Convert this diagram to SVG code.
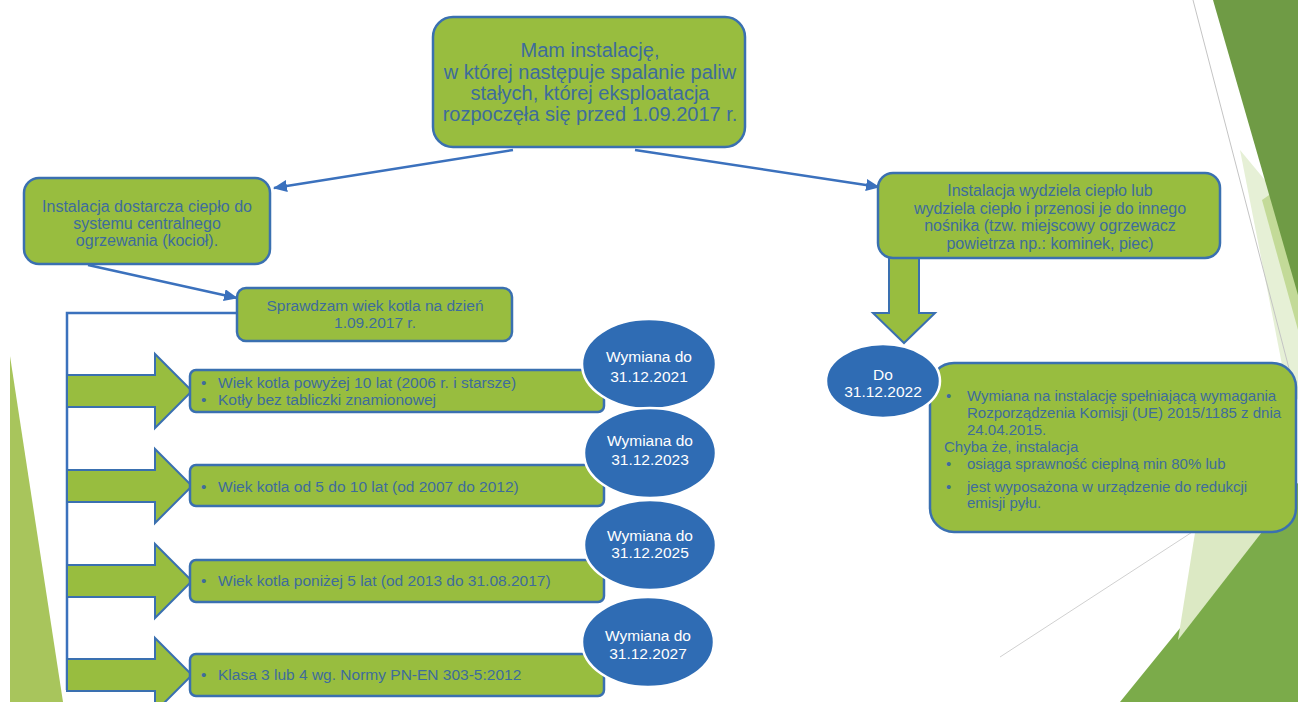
<svg xmlns="http://www.w3.org/2000/svg" width="1298" height="702" viewBox="0 0 1298 702">
  <defs>
    <marker id="ah" markerUnits="userSpaceOnUse" markerWidth="14" markerHeight="12" refX="13" refY="6" orient="auto">
      <path d="M0,0 L14,6 L0,12 Z" fill="#3b71bd"/>
    </marker>
    <style>
      .box{fill:#98bd3f;stroke:#3a70b0;stroke-width:2.5}
      .blk{fill:#98bd3f;stroke:#3a70b0;stroke-width:2;stroke-linejoin:miter}
      .circ{fill:#2f6cb4;stroke:#ffffff;stroke-width:2.5}
      .t{font-family:"Liberation Sans",Arial,sans-serif;fill:#3e6c9c}
      .ct{font-family:"Liberation Sans",Arial,sans-serif;fill:#ffffff;font-size:15.5px;text-anchor:middle}
      .c{text-anchor:middle}
      .con{stroke:#3b71bd;stroke-width:2.5;fill:none}
    </style>
  </defs>
  <rect width="1298" height="702" fill="#ffffff"/>

  <!-- background decoration -->
  <g id="decor">
    <polygon points="10,356 10,702 63,702" fill="#a8c55c"/>
    <polygon points="1240,150 1298,220 1298,400 1285,380" fill="#e6f0d6"/>
    <polygon points="1262,200 1298,175 1298,330" fill="#c3da98"/>
    <polygon points="1213,0 1298,0 1298,295" fill="#6f9b45"/>
    <line x1="1193" y1="0" x2="1292" y2="380" stroke="#c4c4c4" stroke-width="1"/>
    <polygon points="1120,702 1298,483 1298,702" fill="#7bab4a"/>
    <polygon points="1205,470 1275,470 1262,532 1178,640" fill="#dce9c4"/>
    <polygon points="1258,532 1298,483 1298,520" fill="#7bab4a"/>
    <line x1="1000" y1="657" x2="1200" y2="527" stroke="#d0d0d0" stroke-width="1"/>
  </g>

  <!-- connectors -->
  <g id="connectors">
    <line class="con" x1="513" y1="150" x2="274" y2="188" marker-end="url(#ah)"/>
    <line class="con" x1="635" y1="150" x2="879" y2="187" marker-end="url(#ah)"/>
    <line class="con" x1="88" y1="265" x2="237" y2="298" marker-end="url(#ah)"/>
    <polyline class="con" points="237,313 67,313 67,690"/>
    <polygon class="blk" points="889,258 919,258 919,313 935,313 904,343 873,313 889,313"/>
    <polygon class="blk" points="67,375 155,375 155,354 192,391 155,428 155,407 67,407"/>
    <polygon class="blk" points="67,470 155,470 155,449 192,486 155,523 155,502 67,502"/>
    <polygon class="blk" points="67,565 155,565 155,544 192,581 155,618 155,597 67,597"/>
    <polygon class="blk" points="67,659 155,659 155,638 192,675 155,712 155,691 67,691"/>
  </g>

  <g id="node-top">
    <rect class="box" x="433" y="17" width="312" height="130" rx="20"/>
    <text class="t c" font-size="20" x="590" y="57">Mam instalację,</text>
    <text class="t c" font-size="20" x="590" y="79">w której następuje spalanie paliw</text>
    <text class="t c" font-size="20" x="590" y="100">stałych, której eksploatacja</text>
    <text class="t c" font-size="20" x="590" y="121">rozpoczęła się przed 1.09.2017 r.</text>
  </g>

  <g id="node-left">
    <rect class="box" x="24" y="178" width="246" height="86" rx="15"/>
    <text class="t c" font-size="16" x="147" y="212">Instalacja dostarcza ciepło do</text>
    <text class="t c" font-size="16" x="147" y="229">systemu centralnego</text>
    <text class="t c" font-size="16" x="147" y="246">ogrzewania (kocioł).</text>
  </g>

  <g id="node-right">
    <rect class="box" x="878" y="173" width="342" height="85" rx="15"/>
    <text class="t c" font-size="16" x="1050" y="196">Instalacja wydziela ciepło lub</text>
    <text class="t c" font-size="16" x="1050" y="214">wydziela ciepło i przenosi je do innego</text>
    <text class="t c" font-size="16" x="1050" y="231">nośnika (tzw. miejscowy ogrzewacz</text>
    <text class="t c" font-size="16" x="1050" y="249">powietrza np.: kominek, piec)</text>
  </g>

  <g id="node-check">
    <rect class="box" x="237" y="288" width="275" height="53" rx="9"/>
    <text class="t c" font-size="15.5" x="375" y="311">Sprawdzam wiek kotla na dzień</text>
    <text class="t c" font-size="15.5" x="375" y="328">1.09.2017 r.</text>
  </g>

  <g id="node-row1">
    <rect class="box" x="190" y="370" width="414" height="42" rx="6"/>
    <text class="t" font-size="15.5" x="201" y="388">•</text>
    <text class="t" font-size="15.5" x="218" y="388">Wiek kotla powyżej 10 lat (2006 r. i starsze)</text>
    <text class="t" font-size="15.5" x="201" y="405">•</text>
    <text class="t" font-size="15.5" x="218" y="405">Kotły bez tabliczki znamionowej</text>
  </g>
  <g id="node-row2">
    <rect class="box" x="190" y="465" width="414" height="41" rx="6"/>
    <text class="t" font-size="15.5" x="201" y="492">•</text>
    <text class="t" font-size="15.5" x="218" y="492">Wiek kotla od 5 do 10 lat (od 2007 do 2012)</text>
  </g>
  <g id="node-row3">
    <rect class="box" x="190" y="560" width="414" height="42" rx="6"/>
    <text class="t" font-size="15.5" x="201" y="586">•</text>
    <text class="t" font-size="15.5" x="218" y="586">Wiek kotla poniżej 5 lat (od 2013 do 31.08.2017)</text>
  </g>
  <g id="node-row4">
    <rect class="box" x="190" y="654" width="414" height="42" rx="6"/>
    <text class="t" font-size="15.5" x="201" y="680">•</text>
    <text class="t" font-size="15.5" x="218" y="680">Klasa 3 lub 4 wg. Normy PN-EN 303-5:2012</text>
  </g>

  <g id="circle-2021">
    <ellipse class="circ" cx="649" cy="364" rx="67" ry="45"/>
    <text class="ct" x="649" y="362">Wymiana do</text>
    <text class="ct" x="649" y="382">31.12.2021</text>
  </g>
  <g id="circle-2023">
    <ellipse class="circ" cx="650" cy="453" rx="66" ry="45"/>
    <text class="ct" x="650" y="446">Wymiana do</text>
    <text class="ct" x="650" y="465">31.12.2023</text>
  </g>
  <g id="circle-2025">
    <ellipse class="circ" cx="650" cy="545" rx="66" ry="45"/>
    <text class="ct" x="650" y="541">Wymiana do</text>
    <text class="ct" x="650" y="558">31.12.2025</text>
  </g>
  <g id="circle-2027">
    <ellipse class="circ" cx="648" cy="642" rx="66" ry="45"/>
    <text class="ct" x="648" y="641">Wymiana do</text>
    <text class="ct" x="648" y="659">31.12.2027</text>
  </g>

  <g id="node-final">
    <rect class="box" x="930" y="363" width="366" height="169" rx="24"/>
    <text class="t" font-size="15" x="946" y="401">•</text>
    <text class="t" font-size="15" x="967" y="401">Wymiana na instalację spełniającą wymagania</text>
    <text class="t" font-size="15" x="967" y="418">Rozporządzenia Komisji (UE) 2015/1185 z dnia</text>
    <text class="t" font-size="15" x="967" y="435">24.04.2015.</text>
    <text class="t" font-size="15" x="944" y="452">Chyba że, instalacja</text>
    <text class="t" font-size="15" x="946" y="469">•</text>
    <text class="t" font-size="15" x="967" y="469">osiąga sprawność cieplną min 80% lub</text>
    <text class="t" font-size="15" x="946" y="492">•</text>
    <text class="t" font-size="15" x="967" y="492">jest wyposażona w urządzenie do redukcji</text>
    <text class="t" font-size="15" x="967" y="508">emisji pyłu.</text>
  </g>

  <g id="circle-2022">
    <ellipse class="circ" cx="883" cy="381" rx="57" ry="37"/>
    <text class="ct" x="883" y="380" font-size="15">Do</text>
    <text class="ct" x="883" y="397" font-size="15">31.12.2022</text>
  </g>
</svg>
